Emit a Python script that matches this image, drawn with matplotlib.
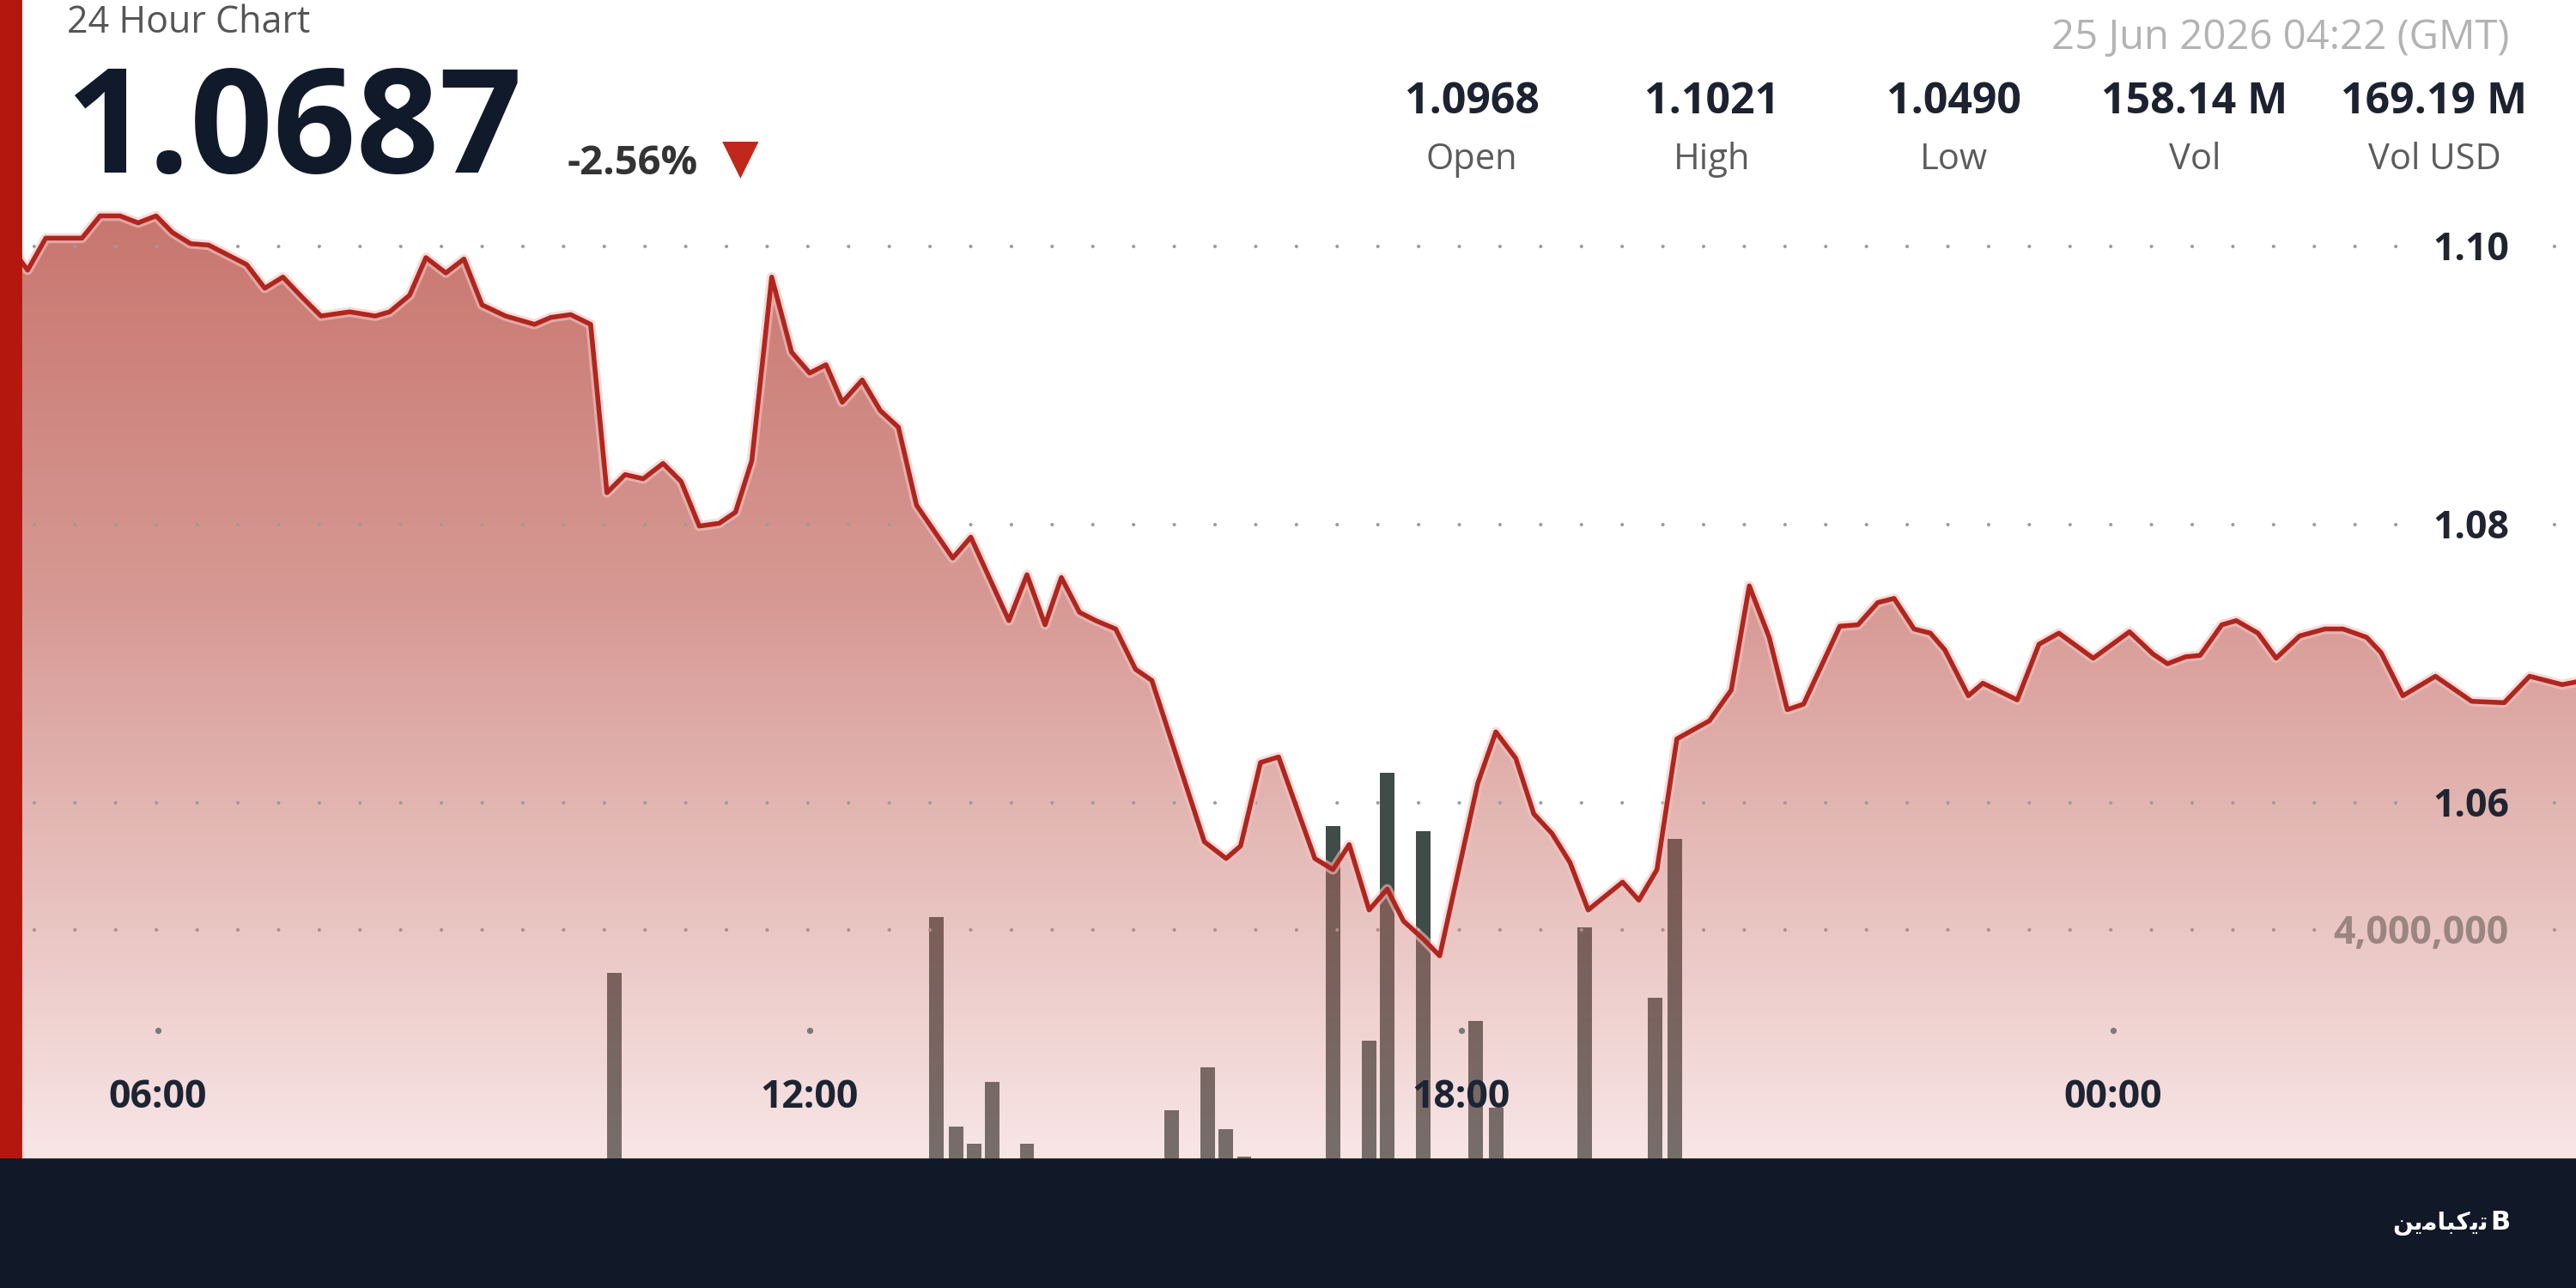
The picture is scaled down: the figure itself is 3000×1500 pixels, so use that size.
import numpy as np
import matplotlib
matplotlib.use('Agg')
import matplotlib.pyplot as plt
from matplotlib.patches import Rectangle
from matplotlib.transforms import blended_transform_factory, offset_copy

plt.rcParams['font.family'] = ['Open Sans', 'DejaVu Sans']
plt.rcParams['lines.scale_dashes'] = False

# price line (GMT, 24h window)
times = ['04:44', '04:48', '04:58', '05:18', '05:28', '05:39', '05:49', '05:59', '06:08', '06:18',
         '06:28', '06:40', '06:49', '06:59', '07:09', '07:20', '07:30', '07:46', '08:00', '08:08',
         '08:19', '08:28', '08:39', '08:49', '08:59', '09:12', '09:28', '09:37', '09:48', '09:59',
         '10:08', '10:18', '10:28', '10:39', '10:49', '10:59', '11:10', '11:19', '11:28', '11:39',
         '11:50', '12:00', '12:09', '12:18', '12:29', '12:39', '12:49', '12:59', '13:19', '13:29',
         '13:50', '14:00', '14:10', '14:19', '14:29', '14:38', '14:49', '15:00', '15:09', '15:38',
         '15:50', '15:58', '16:09', '16:19', '16:39', '16:49', '16:58', '17:09', '17:19', '17:28',
         '17:39', '17:48', '18:09', '18:19', '18:30', '18:40', '18:50', '19:00', '19:10', '19:29',
         '19:38', '19:48', '19:59', '20:17', '20:29', '20:39', '20:50', '21:00', '21:09', '21:29',
         '21:39', '21:50', '21:59', '22:10', '22:19', '22:27', '22:40', '22:48', '23:07', '23:19',
         '23:30', '23:49', '00:09', '00:22', '00:30', '00:40', '00:48', '01:00', '01:08', '01:20',
         '01:30', '01:43', '01:57', '02:07', '02:20', '02:28', '02:40', '02:58', '03:18', '03:36',
         '03:50', '04:08', '04:16']
prices = [1.0990, 1.0983, 1.1006, 1.1006, 1.1022, 1.1022, 1.1017, 1.1022, 1.1010, 1.1002,
          1.1001, 1.0993, 1.0987, 1.0970, 1.0978, 1.0963, 1.0950, 1.0953, 1.0950, 1.0953,
          1.0965, 1.0992, 1.0981, 1.0991, 1.0958, 1.0950, 1.0944, 1.0949, 1.0951, 1.0944,
          1.0823, 1.0836, 1.0833, 1.0844, 1.0831, 1.0799, 1.0801, 1.0809, 1.0846, 1.0978,
          1.0924, 1.0909, 1.0915, 1.0888, 1.0904, 1.0882, 1.0870, 1.0814, 1.0776, 1.0791,
          1.0731, 1.0764, 1.0728, 1.0762, 1.0737, 1.0731, 1.0725, 1.0696, 1.0688, 1.0572,
          1.0560, 1.0569, 1.0629, 1.0633, 1.0560, 1.0552, 1.0570, 1.0523, 1.0538, 1.0515,
          1.0502, 1.0490, 1.0614, 1.0651, 1.0632, 1.0592, 1.0578, 1.0557, 1.0523, 1.0543,
          1.0530, 1.0552, 1.0646, 1.0659, 1.0681, 1.0756, 1.0719, 1.0667, 1.0671, 1.0727,
          1.0728, 1.0744, 1.0747, 1.0725, 1.0722, 1.0710, 1.0677, 1.0686, 1.0674, 1.0714,
          1.0722, 1.0704, 1.0723, 1.0707, 1.0700, 1.0705, 1.0706, 1.0728, 1.0731, 1.0722,
          1.0704, 1.0720, 1.0725, 1.0725, 1.0719, 1.0708, 1.0677, 1.0691, 1.0673, 1.0672,
          1.0691, 1.0685, 1.0687]

# volume bars (millions)
vol_times = ['10:12', '13:10', '13:21', '13:31', '13:41', '14:00', '15:20', '15:40', '15:50', '16:00',
             '16:49', '17:09', '17:19', '17:39', '18:08', '18:19', '19:08', '19:47', '19:58']
volumes = [3.52, 4.14, 1.80, 1.61, 2.30, 1.61, 1.99, 2.47, 1.77, 1.47,
           5.16, 2.76, 5.76, 5.10, 2.98, 2.01, 4.03, 3.24, 5.02]

price_ticks = [1.10, 1.08, 1.06]
vol_ticks = [4000000]
x_ticks = ['06:00', '12:00', '18:00', '00:00']

stat_values = ['1.0968', '1.1021', '1.0490', '158.14 M', '169.19 M']
stat_labels = ['Open', 'High', 'Low', 'Vol', 'Vol USD']

last_price = '1.0687'
change = '-2.56%'
stamp = '25 Jun 2026 04:22 (GMT)'


def to_hours(labels):
    out = []
    for t in labels:
        h, m = t.split(':')
        v = int(h) + int(m) / 60
        if v < 4.6:          # after midnight
            v += 24
        out.append(v)
    return np.array(out)


hours = to_hours(times)
vol_hours = to_hours(vol_times)
tick_hours = to_hours(x_ticks)


def fx(px):
    return px / 3000


def fy(py):
    return 1 - py / 1500


fig = plt.figure(figsize=(15, 7.5), dpi=200)
fig.patch.set_facecolor('white')

x_lim = (4.5455, 28.2609)
price_lim = (1.02512, 1.11772)
vol_lim = (0, 14.39e6)

ax_vol = fig.add_axes([0, 0, 1, 1], zorder=0)
ax = fig.add_axes([0, 0, 1, 1], zorder=1)
ax.patch.set_visible(False)

# volume bars sit under the translucent area fill
ax_vol.bar(vol_hours, np.array(volumes) * 1e6, width=0.134, color='#3f4c47', zorder=1)

# gradient area fill
n = 600
yy = np.linspace(0, 1, n)
stops_y = [0, 250 / 1500, 700 / 1500, 1050 / 1500, 1350 / 1500, 1]
stops_w = np.array([[200, 118, 110], [200, 118, 110], [215, 153, 148],
                    [232, 194, 191], [248, 230, 230], [250, 236, 236]]) / 255
w = np.column_stack([np.interp(yy, stops_y, stops_w[:, k]) for k in range(3)])
alpha = np.interp(yy, [250 / 1500, 1350 / 1500], [0.72, 0.33])
rgb = np.clip((w - (1 - alpha[:, None])) / alpha[:, None], 0, 1)
rgba = np.concatenate([rgb, alpha[:, None]], axis=1)
img = np.repeat(rgba[:, None, :], 2, axis=1)
im = ax.imshow(img, extent=(x_lim[0], x_lim[1], price_lim[0], price_lim[1]),
               aspect='auto', origin='upper', zorder=1, interpolation='bilinear')
fill = ax.fill_between(hours, prices, price_lim[0], facecolor='none', edgecolor='none')
im.set_clip_path(fill.get_paths()[0], transform=ax.transData)

ax.plot(hours, prices, color='#f2c6c4', lw=4.2, alpha=0.6, zorder=3, solid_joinstyle='round')
ax.plot(hours, prices, color='#b0261e', lw=2.0, zorder=4, solid_joinstyle='round')

for a in (ax, ax_vol):
    a.set_xlim(*x_lim)
    a.axis('off')
ax.set_ylim(*price_lim)
ax_vol.set_ylim(*vol_lim)

# dotted grid rows with a gap for the label
dots = dict(color='#9c9c9c', lw=1.5, linestyle=(2.7, (0.01, 17.06)),
            dash_capstyle='round', zorder=2)
lab_tr = offset_copy(blended_transform_factory(ax.transAxes, ax.transData), fig=fig, y=-5.8, units='points')
for p in price_ticks:
    ax.axhline(p, xmin=0, xmax=2800 / 3000, **dots)
    ax.axhline(p, xmin=2935 / 3000, xmax=1, **dots)
    ax.text(2922 / 3000, p, f'{p:.2f}', transform=lab_tr, ha='right', va='baseline',
            fontsize=16, weight='bold', color='#1f2430', zorder=6)

vol_tr = offset_copy(blended_transform_factory(ax.transAxes, ax_vol.transData), fig=fig, y=-5.8, units='points')
for v in vol_ticks:
    ax_vol.axhline(v, xmin=0, xmax=2700 / 3000, **dots)
    ax_vol.axhline(v, xmin=2935 / 3000, xmax=1, **dots)
    ax.text(2922 / 3000, v, f'{v:,}', transform=vol_tr, ha='right', va='baseline',
            fontsize=16, weight='bold', color='#9a8580', zorder=6)

# x ticks drawn inside the plot
xt = blended_transform_factory(ax.transData, ax.transAxes)
ax.plot(tick_hours, [0.2] * len(tick_hours), transform=xt, ls='none', marker='o',
        ms=1.6, color='#7a7a7a', zorder=5)
for h, lab in zip(tick_hours, x_ticks):
    ax.text(h, 0.14, lab, transform=xt, ha='center', va='baseline', fontsize=16,
            weight='bold', color='#1d2433', zorder=6)

# header
fig.text(fx(78), fy(38), '24 Hour Chart', fontsize=15.5, color='#555555', va='baseline')
fig.text(fx(76), fy(201), last_price, fontsize=61, weight='bold', color='#111a2b', va='baseline')
fig.text(fx(661), fy(203), change, fontsize=17, weight='bold', color='#333333', va='baseline')
fig.text(fx(862), fy(186), '\u25BC', family='DejaVu Sans', fontsize=20, color='#c1271b',
         ha='center', va='center')
fig.text(fx(2922), fy(57), stamp, ha='right', va='baseline', fontsize=17, color='#b3b3b3')

stat_x = [1714, 1994, 2275, 2556, 2835]
for sx, val, lab in zip(stat_x, stat_values, stat_labels):
    fig.text(fx(sx), fy(132), val, ha='center', va='baseline', fontsize=18, weight='bold', color='#1c2230')
    fig.text(fx(sx), fy(197), lab, ha='center', va='baseline', fontsize=15, color='#5c5c5c')

# frame pieces: red edge on the left and the dark footer
fig.add_artist(Rectangle((0, fy(1350)), fx(24), 1350 / 1500, transform=fig.transFigure,
                         color='#b3170d', zorder=10))
fig.add_artist(Rectangle((0, 0), 1, 150 / 1500, transform=fig.transFigure,
                         color='#111828', zorder=10))

logo = '\uFEE6\uFBFE\uFEE3\uFE8E\uFE92\uFB90\uFBFE\uFE97'  # تیکبامین, shaped for display
fig.text(fx(2898), fy(1432), logo, ha='right', va='baseline', color='white', fontsize=10,
         weight='bold', family=['DejaVu Sans'], zorder=11)
fig.text(fx(2900), fy(1432), 'B', ha='left', va='baseline', color='white', fontsize=11,
         weight='bold', family=['DejaVu Sans'], zorder=11)

fig.savefig('out.png', dpi=200)
